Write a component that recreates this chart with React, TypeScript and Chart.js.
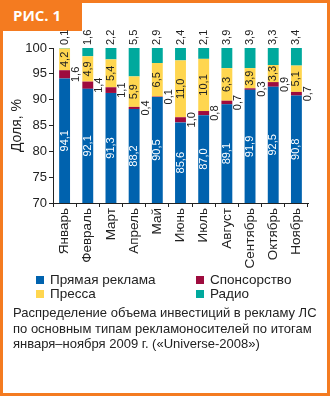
import React, { useEffect, useRef } from "react";
import { Chart, registerables } from "chart.js";

Chart.register(...registerables);

const months = ["Январь", "Февраль", "Март", "Апрель", "Май", "Июнь", "Июль", "Август", "Сентябрь", "Октябрь", "Ноябрь"];
const directAds = [94.1, 92.1, 91.3, 88.2, 90.5, 85.6, 87.0, 89.1, 91.9, 92.5, 90.8];
const sponsorship = [1.6, 1.4, 1.1, 0.4, 0.1, 1.0, 0.8, 0.7, 0.3, 0.9, 0.7];
const press = [4.2, 4.9, 5.4, 5.9, 6.5, 11.0, 10.1, 6.3, 3.9, 3.3, 5.1];
const radio = [0.1, 1.6, 2.2, 5.5, 2.9, 2.4, 2.1, 3.9, 3.9, 3.3, 3.4];
const seriesNames = ["Прямая реклама", "Спонсорство", "Пресса", "Радио"];
const seriesColors = ["#0062AE", "#9E0B3E", "#FFD64F", "#00A99D"];
const yMin = 70;
const yMax = 100;
const yStep = 5;

const FONT = "'Liberation Sans', Arial, sans-serif";
const ORANGE = "#F47B20";

const fmt = (v: number) => v.toFixed(1).replace(".", ",");

const labelPlugin = {
  id: "barLabels",
  afterDatasetsDraw(chart: any) {
    const { ctx, chartArea } = chart;
    chart.data.datasets.forEach((ds: any, di: number) => {
      const meta = chart.getDatasetMeta(di);
      meta.data.forEach((el: any, i: number) => {
        const v = ds.data[i];
        const { x, y, base, width } = el.getProps(["x", "y", "base", "width"], true);
        let px = x;
        let py = (y + base) / 2;
        let align: CanvasTextAlign = "center";
        let color = "#222";
        if (di === 0) {
          py = (y + Math.min(base, chartArea.bottom)) / 2;
          color = "#ffffff";
        } else if (di === 1) {
          px = x + width / 2 + 6;
        } else if (di === 3) {
          py = chartArea.top - 3;
          align = "left";
        }
        ctx.save();
        ctx.translate(px, py);
        ctx.rotate(-Math.PI / 2);
        ctx.font = `11px ${FONT}`;
        ctx.fillStyle = color;
        ctx.textAlign = align;
        ctx.textBaseline = "middle";
        ctx.fillText(fmt(v), 0, 0);
        ctx.restore();
      });
    });
  },
};

const CANVAS_H = 280;

function ChartCanvas() {
  const ref = useRef<HTMLCanvasElement | null>(null);
  useEffect(() => {
    if (!ref.current) return;
    const values = [directAds, sponsorship, press, radio];
    const chart = new Chart(ref.current, {
      type: "bar",
      data: {
        labels: months,
        datasets: values.map((d, i) => ({
          label: seriesNames[i],
          data: d,
          backgroundColor: seriesColors[i],
          borderWidth: 0,
          barPercentage: 0.47,
          categoryPercentage: 1,
        })),
      },
      options: {
        responsive: false,
        animation: false,
        layout: { padding: { left: 0, right: 22, top: 48, bottom: 0 } },
        plugins: {
          legend: { display: false },
          tooltip: { enabled: false },
        },
        scales: {
          x: {
            stacked: true,
            afterFit: (s: any) => {
              s.height = CANVAS_H - 203;
            },
            grid: {
              offset: true,
              drawOnChartArea: false,
              tickLength: 4,
              color: "#222",
            },
            border: { color: "#222", width: 1 },
            ticks: {
              autoSkip: false,
              minRotation: 90,
              maxRotation: 90,
              padding: 1,
              color: "#222",
              font: { family: FONT, size: 13.5 },
            },
          },
          y: {
            stacked: true,
            min: yMin,
            max: yMax,
            afterFit: (s: any) => {
              s.width = 53;
            },
            grid: {
              drawOnChartArea: false,
              tickLength: 4,
              color: "#222",
            },
            border: { color: "#222", width: 1 },
            ticks: {
              stepSize: yStep,
              padding: 2,
              color: "#222",
              font: { family: FONT, size: 13 },
            },
            title: {
              display: true,
              text: "Доля, %",
              color: "#222",
              font: { family: FONT, size: 14 },
              padding: { top: 9, bottom: 0 },
            },
          },
        },
      },
      plugins: [labelPlugin],
    });
    return () => chart.destroy();
  }, []);
  return <canvas ref={ref} width={330} height={CANVAS_H} style={{ width: 330, height: CANVAS_H, display: "block" }} />;
}

export default function App() {
  const legendItems = [
    { i: 0, x: 36, y: 272 },
    { i: 1, x: 196, y: 272 },
    { i: 2, x: 36, y: 286 },
    { i: 3, x: 196, y: 286 },
  ];
  return (
    <div
      style={{
        position: "absolute",
        left: 0,
        top: 0,
        width: 330,
        height: 396,
        background: "#fff",
        overflow: "hidden",
        fontFamily: FONT,
        color: "#222",
      }}
    >
      <div
        style={{
          position: "absolute",
          left: 0,
          top: 0,
          width: 330,
          height: 396,
          boxSizing: "border-box",
          border: `3px solid ${ORANGE}`,
        }}
      />
      <div
        style={{
          position: "absolute",
          left: 0,
          top: 0,
          width: 82,
          height: 31,
          background: ORANGE,
          color: "#fff",
          fontWeight: "bold",
          fontSize: 15,
          lineHeight: "31px",
          paddingLeft: 13,
          boxSizing: "border-box",
          fontFamily: "'Open Sans', " + FONT,
        }}
      >
        РИС. 1
      </div>
      <div style={{ position: "absolute", left: 0, top: 0 }}>
        <ChartCanvas />
      </div>
      {legendItems.map((it) => (
        <div
          key={it.i}
          style={{ position: "absolute", left: it.x, top: it.y, height: 16, whiteSpace: "nowrap", fontSize: 13.5, lineHeight: "16px" }}
        >
          <span
            style={{
              display: "inline-block",
              width: 8,
              height: 8,
              background: seriesColors[it.i],
              marginRight: 6,
              verticalAlign: "0px",
            }}
          />
          {seriesNames[it.i]}
        </div>
      ))}
      <div
        style={{
          position: "absolute",
          left: 13,
          top: 305,
          width: 312,
          fontSize: 13,
          lineHeight: "15.5px",
          whiteSpace: "nowrap",
        }}
      >
        Распределение объема инвестиций в рекламу ЛС
        <br />
        по основным типам рекламоносителей по итогам
        <br />
        января–ноября 2009 г. («Universe-2008»)
      </div>
    </div>
  );
}
